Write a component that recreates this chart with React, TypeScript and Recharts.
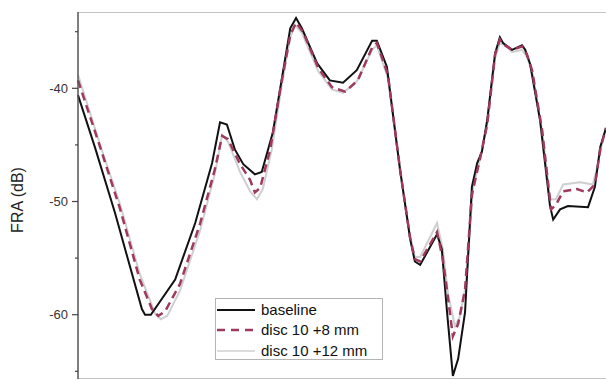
import React from "react";
import {
  LineChart,
  Line,
  XAxis,
  YAxis,
  CartesianGrid
} from 'recharts';

// x is a relative position along the (unlabelled) frequency axis, 0..100
const baselineX = [0, 3.2, 7.0, 12.1, 12.7, 13.8, 18.4, 22.2, 25.4, 26.9, 28.2, 29.7, 31.3, 33.5, 34.8, 36.9, 40.2, 41.3, 42.4, 45.3, 47.7, 50.2, 52.8, 55.7, 56.6, 58.5, 61.0, 62.9, 63.8, 64.8, 68.0, 68.9, 69.9, 71.0, 72.0, 73.3, 74.6, 75.6, 76.5, 77.5, 79.0, 79.9, 80.5, 82.2, 84.1, 84.7, 85.6, 87.5, 89.4, 90.0, 91.3, 92.8, 96.6, 97.9, 98.9, 100];
const baselineY = [-40.6, -45.2, -51.0, -59.5, -60.0, -60.0, -56.9, -51.9, -46.6, -43.0, -43.2, -45.4, -46.7, -47.6, -47.4, -43.9, -34.7, -33.8, -34.7, -37.8, -39.3, -39.5, -38.4, -35.8, -35.8, -38.1, -47.2, -53.3, -55.3, -55.6, -52.9, -54.2, -59.8, -65.4, -63.9, -59.8, -48.7, -46.6, -45.6, -42.8, -36.9, -35.5, -36.0, -36.6, -36.2, -36.6, -37.8, -42.8, -50.4, -51.6, -50.7, -50.4, -50.5, -48.7, -45.2, -43.5];

const disc8X = [0, 4.2, 8.0, 11.7, 14.0, 15.2, 16.5, 19.3, 23.1, 25.9, 27.3, 28.4, 30.7, 32.6, 33.5, 34.5, 36.4, 38.3, 40.2, 41.3, 42.6, 45.5, 48.1, 50.6, 53.0, 55.7, 56.6, 58.7, 61.0, 62.9, 63.8, 64.8, 68.0, 69.1, 70.1, 71.0, 72.0, 73.3, 74.6, 76.1, 77.5, 79.0, 79.9, 80.5, 82.2, 84.1, 85.0, 86.0, 87.9, 89.6, 90.5, 91.9, 94.5, 96.4, 97.9, 98.9, 100];
const disc8Y = [-39.3, -45.2, -50.7, -56.9, -59.5, -60.1, -59.7, -57.3, -52.0, -47.2, -44.2, -44.5, -46.7, -48.1, -49.2, -48.8, -45.4, -40.1, -35.3, -34.2, -35.0, -38.2, -39.9, -40.3, -39.3, -36.4, -36.0, -38.8, -47.2, -53.2, -55.1, -55.3, -52.7, -55.1, -58.6, -61.9, -60.8, -57.8, -49.4, -46.3, -43.2, -37.0, -35.7, -36.1, -36.6, -36.3, -37.0, -38.4, -43.7, -50.7, -50.3, -49.1, -48.9, -49.2, -48.5, -45.4, -43.5];

const disc12X = [0, 4.2, 8.0, 11.7, 14.6, 15.7, 16.9, 19.3, 23.1, 25.9, 27.3, 28.4, 30.7, 32.6, 33.9, 35.0, 36.7, 38.6, 40.2, 41.1, 42.4, 45.5, 48.1, 50.2, 52.8, 55.7, 56.6, 58.7, 61.0, 62.9, 63.8, 64.8, 68.0, 69.1, 70.1, 71.4, 72.3, 73.5, 74.8, 76.1, 77.5, 79.0, 79.9, 80.9, 82.2, 84.1, 85.0, 86.0, 87.9, 89.4, 90.5, 91.9, 95.1, 97.5, 98.5, 99.4, 100];
const disc12Y = [-38.8, -45.0, -50.3, -56.4, -59.9, -60.4, -60.1, -57.9, -52.6, -47.6, -44.1, -44.7, -47.4, -49.1, -49.8, -48.9, -45.4, -39.7, -35.5, -34.4, -35.1, -38.5, -40.1, -40.4, -39.4, -36.6, -36.2, -39.1, -47.2, -53.0, -54.9, -54.9, -51.9, -54.2, -58.2, -61.0, -60.2, -57.3, -48.9, -46.3, -43.2, -37.3, -36.0, -36.2, -36.8, -36.6, -37.2, -38.5, -43.7, -49.8, -49.8, -48.5, -48.3, -48.5, -46.7, -44.5, -43.5];

const yTicks = [-65, -60, -55, -50, -45, -40, -35];
const yLabelled = [-60, -50, -40];
const seriesNames = ['baseline', 'disc 10 +8 mm', 'disc 10 +12 mm'];

const zip = (xs: number[], ys: number[]) => xs.map((x, i) => ({ x, y: ys[i] }));

const baseline = zip(baselineX, baselineY);
const disc8 = zip(disc8X, disc8Y);
const disc12 = zip(disc12X, disc12Y);

const Y_MIN = -65.68;
const Y_MAX = -33.26;

const FONT = '"Liberation Sans", Arial, sans-serif';

const YTick = (props: any) => {
  const { x, y, payload } = props;
  const major = yLabelled.includes(payload.value);
  return (
    <g>
      <line x1={x - (major ? 6 : 3)} x2={x} y1={y} y2={y} stroke="#444" strokeWidth={1.2} />
      {major && (
        <text x={x - 10} y={y} dy={4.5} textAnchor="end" fontSize={13}
              fontFamily={FONT} fill="#333">
          {payload.value}
        </text>
      )}
    </g>
  );
};

const legendStyles = [
  { stroke: '#111', width: 2, dash: undefined },
  { stroke: '#9e3a5c', width: 2.5, dash: '8 6' },
  { stroke: '#cfcfcf', width: 1.5, dash: undefined },
];

const LegendBox = () => (
  <div style={{
    position: 'absolute', left: 215, top: 298,
    border: '1px solid #b4b4b4', width: 166, height: 60, boxSizing: 'content-box',
    fontFamily: FONT, fontSize: 15, color: '#111', background: '#fff'
  }}>
    {seriesNames.map((n, i) => (
      <div key={n} style={{ display: 'flex', alignItems: 'center', height: 20.3, marginTop: i === 0 ? 1 : 0 }}>
        <svg width={38} height={10} style={{ marginLeft: 1, marginRight: 6 }}>
          <line x1={0} x2={38} y1={5} y2={5} stroke={legendStyles[i].stroke}
                strokeWidth={legendStyles[i].width} strokeDasharray={legendStyles[i].dash} />
        </svg>
        <span style={{ lineHeight: '20px' }}>{n}</span>
      </div>
    ))}
  </div>
);

const FraChart = () => {
  return (
    <div style={{ position: 'absolute', left: 0, top: 0, width: 606, height: 381, background: '#fff' }}>
      <LineChart width={606} height={381} margin={{ top: 12, right: 0, bottom: 2, left: 0 }}>
        {/* light frame lines along the top and bottom of the plot */}
        <CartesianGrid vertical={false} horizontalPoints={[12.5, 378.5]} stroke="#c4c4c4" />
        <XAxis dataKey="x" type="number" domain={[0, 100]} height={0} hide />
        <YAxis type="number" domain={[Y_MIN, Y_MAX]} allowDataOverflow width={78}
               ticks={yTicks} tick={<YTick />} tickSize={0} tickMargin={0}
               tickLine={false} axisLine={{ stroke: '#555', strokeWidth: 1.5 }}
               label={{
                 content: () => (
                   <text x={18} y={200} transform="rotate(-90 18 200)" textAnchor="middle"
                         dy={5} fontSize={16} fontFamily={FONT} fill="#222">
                     FRA (dB)
                   </text>
                 )
               }} />
        <Line data={disc12} dataKey="y" name={seriesNames[2]} type="linear" stroke="#cfcfcf"
              strokeWidth={2} dot={false} isAnimationActive={false} />
        <Line data={baseline} dataKey="y" name={seriesNames[0]} type="linear" stroke="#111"
              strokeWidth={2} dot={false} isAnimationActive={false} />
        <Line data={disc8} dataKey="y" name={seriesNames[1]} type="linear" stroke="#9e3a5c"
              strokeWidth={2.5} strokeDasharray="8 5" dot={false} isAnimationActive={false} />
      </LineChart>
      <LegendBox />
    </div>
  );
};

export default FraChart;
